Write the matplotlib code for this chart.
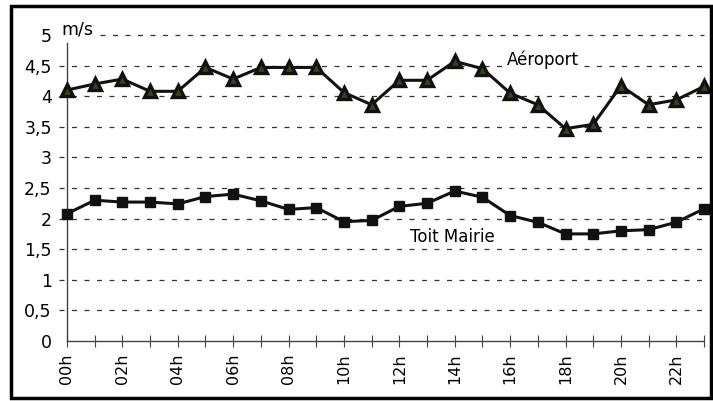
import matplotlib
matplotlib.use("Agg")
import matplotlib.pyplot as plt
from matplotlib.patches import Rectangle

hours = [f"{h:02d}h" for h in range(24)]
aeroport = [4.1, 4.2, 4.28, 4.08, 4.08, 4.47, 4.28, 4.47, 4.47, 4.47, 4.06, 3.86,
            4.26, 4.26, 4.57, 4.45, 4.05, 3.86, 3.47, 3.54, 4.17, 3.86, 3.94, 4.16]
toit_mairie = [2.08, 2.3, 2.27, 2.27, 2.24, 2.36, 2.4, 2.29, 2.15, 2.18, 1.95, 1.97,
               2.2, 2.25, 2.45, 2.35, 2.05, 1.94, 1.75, 1.75, 1.8, 1.82, 1.94, 2.16]
yticks = [0, 0.5, 1, 1.5, 2, 2.5, 3, 3.5, 4, 4.5, 5]
ytick_labels = ["0", "0,5", "1", "1,5", "2", "2,5", "3", "3,5", "4", "4,5", "5"]

fig = plt.figure(figsize=(7.13, 4.01), dpi=100)
ax = fig.add_axes([67/713, 60/401, (704-67)/713, (341-35)/401])
x = list(range(len(hours)))

# grid lines
for yv in yticks[1:]:
    xmin = (100-67)/(704-67) if yv == 5 else -8/(704-67)
    ax.axhline(yv, xmin=xmin, xmax=1.0, color="#333333", lw=0.9,
               dashes=(4, 6), clip_on=False, zorder=1)

ax.plot(x, aeroport, color="#111111", lw=2.2, marker="^", ms=8,
        markerfacecolor="#2a4a1a", markeredgecolor="#111111", markeredgewidth=2.4,
        zorder=3, clip_on=False)
ax.plot(x, toit_mairie, color="#111111", lw=2.2, marker="s", ms=7.5,
        markerfacecolor="#111111", markeredgecolor="#111111", zorder=3, clip_on=False)

ax.set_xlim(0, 23)
ax.set_ylim(0, 5)
for s in ["top", "right"]:
    ax.spines[s].set_visible(False)
ax.spines["left"].set_bounds(0, 4.87)
ax.spines["left"].set_color("#444444")
ax.spines["bottom"].set_color("#444444")
ax.spines["left"].set_linewidth(1.0)
ax.spines["bottom"].set_linewidth(1.0)

ax.set_yticks(yticks)
ax.set_yticklabels(ytick_labels, fontsize=12.5)
ax.tick_params(axis="y", length=0, pad=11)
ax.set_xticks(x)
ax.set_xticklabels([h if i % 2 == 0 else "" for i, h in enumerate(hours)],
                   rotation=90, fontsize=11.5)
ax.tick_params(axis="x", direction="inout", length=8, color="#444444", pad=5)

ax.text(-0.2, 5.0, "m/s", fontsize=12.5, ha="left", va="baseline")
ax.text(17.2, 4.6, "Aéroport", fontsize=12, ha="center", va="center",
        bbox=dict(facecolor="white", edgecolor="none", pad=1))
ax.text(13.9, 1.7, "Toit Mairie", fontsize=12, ha="center", va="center")

fig.patches.append(Rectangle((11/713, 3/401), 700/713, 392/401, transform=fig.transFigure,
                             fill=False, edgecolor="black", lw=2.5))

fig.savefig("out.png", dpi=100)
